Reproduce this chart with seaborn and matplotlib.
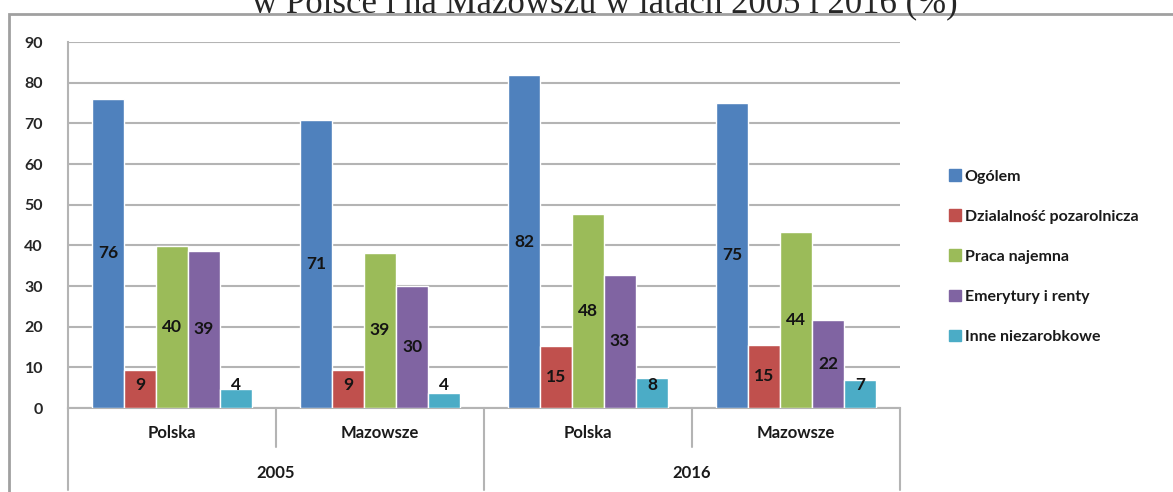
import pandas as pd
import numpy as np
import matplotlib
matplotlib.use("Agg")
import matplotlib.pyplot as plt
import matplotlib.patches as mpatches
import matplotlib.transforms as mtransforms
import seaborn as sns

# Data (%)
years = ["2005", "2005", "2016", "2016"]
regions = ["Polska", "Mazowsze", "Polska", "Mazowsze"]
series = ["Ogólem", "Dzialalność pozarolnicza", "Praca najemna",
          "Emerytury i renty", "Inne niezarobkowe"]
ogolem = [76.1, 70.8, 81.8, 75.0]
dzialalnosc = [9.3, 9.3, 15.2, 15.5]
praca = [39.9, 38.2, 47.7, 43.3]
emerytury = [38.7, 30.0, 32.8, 21.6]
inne = [4.6, 3.6, 7.5, 7.0]
labels_shown = [[76, 71, 82, 75], [9, 9, 15, 15], [40, 39, 48, 44],
                [39, 30, 33, 22], [4, 4, 8, 7]]
colors = ["#4F81BD", "#C0504D", "#9BBB59", "#8064A2", "#4BACC6"]

cats = [f"{y} {r}" for y, r in zip(years, regions)]
rows = []
for s, vals in zip(series, [ogolem, dzialalnosc, praca, emerytury, inne]):
    for c, v in zip(cats, vals):
        rows.append({"cat": c, "seria": s, "val": v})
df = pd.DataFrame(rows)

sns.set_style("white")
plt.rcParams["font.family"] = ["Lato", "DejaVu Sans"]

W, H = 1173, 492
fig = plt.figure(figsize=(W / 100, H / 100), dpi=100)
ax = fig.add_axes([68 / W, (H - 408) / H, 832 / W, 366 / H])

sns.barplot(data=df, x="cat", y="val", hue="seria", order=cats,
            hue_order=series, palette=colors, width=0.77, gap=0,
            saturation=1, legend=False, ax=ax, zorder=3)

ax.set_ylim(0, 90)
ax.set_xlim(-0.5, 3.5)
ax.set_yticks(range(0, 91, 10))
ax.yaxis.grid(True, color="#B4B4B4", linewidth=1.5, zorder=0)
ax.set_axisbelow(True)
ax.set_xlabel("")
ax.set_ylabel("")
ax.set_xticks([])
ax.tick_params(axis="y", length=6, width=1.5, color="#B4B4B4", pad=12,
               labelsize=11.5)
for t in ax.get_yticklabels():
    t.set_fontweight("bold")
for side in ["top", "right"]:
    ax.spines[side].set_visible(False)
for side in ["left", "bottom"]:
    ax.spines[side].set_color("#B4B4B4")
    ax.spines[side].set_linewidth(1.5)

# bar value labels
for cont, labs in zip(ax.containers, labels_shown):
    for bar, lab in zip(cont, labs):
        h = bar.get_height()
        ax.text(bar.get_x() + bar.get_width() / 2, max(h / 2, 5.7), str(lab),
                ha="center", va="center", fontsize=12.5, fontweight="bold",
                color="#141414", zorder=5)

# multi-level category axis
trans = mtransforms.blended_transform_factory(ax.transData, ax.transAxes)
for xs, yb in [(-0.5, -82 / 366), (0.5, -39 / 366), (1.5, -82 / 366),
               (2.5, -39 / 366), (3.5, -82 / 366)]:
    ax.plot([xs, xs], [0, yb], transform=trans, color="#B4B4B4", lw=1.5,
            clip_on=False)
for i, r in enumerate(regions):
    ax.text(i, -25 / 366, r, transform=trans, ha="center", va="center",
            fontsize=12, fontweight="bold", color="#1a1a1a")
for i, y in [(0.5, "2005"), (2.5, "2016")]:
    ax.text(i, -65 / 366, y, transform=trans, ha="center", va="center",
            fontsize=12, fontweight="bold", color="#1a1a1a")

# legend
handles = [mpatches.Patch(color=c, label=s) for c, s in zip(colors, series)]
leg = fig.legend(handles=handles, loc="upper left",
                 bbox_to_anchor=(935 / W, 1 - 155 / H), frameon=False,
                 handlelength=0.7, handleheight=0.7, handletextpad=0.25,
                 labelspacing=1.62, fontsize=11.5)
for t in leg.get_texts():
    t.set_fontweight("bold")
    t.set_color("#1a1a1a")

# chart frame and cut-off title
frame = mpatches.Rectangle((9 / W, -0.1), 1.2, 1 - 14 / H + 0.1,
                           transform=fig.transFigure, fill=False,
                           edgecolor="#A0A0A0", linewidth=2)
fig.patches.append(frame)
fig.text(605 / W, 1 - 12 / H, "w Polsce i na Mazowszu w latach 2005 i 2016 (%)",
         ha="center", va="baseline", fontsize=25,
         family=["Liberation Serif", "DejaVu Serif"])

fig.savefig("out.png", dpi=100)
